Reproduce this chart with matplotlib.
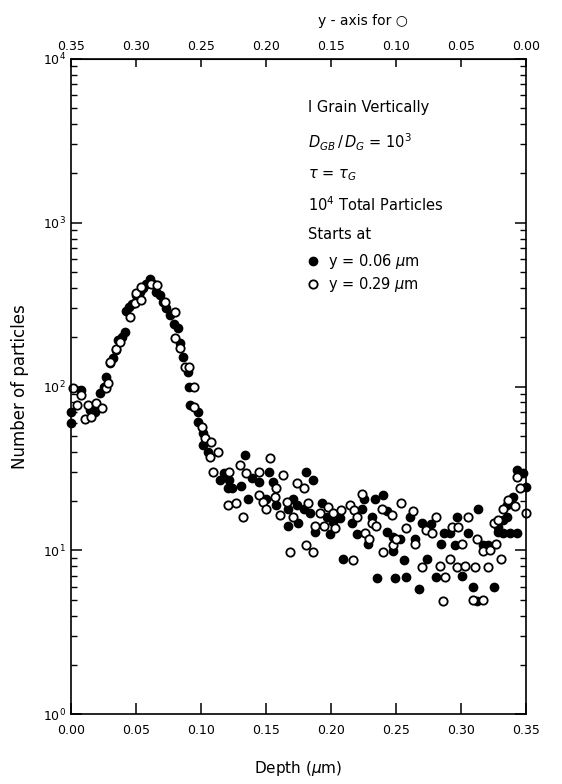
import matplotlib
matplotlib.use("Agg")
import matplotlib.pyplot as plt

plt.rcParams['font.family'] = ['DejaVu Sans']
plt.rcParams['mathtext.fontset'] = 'dejavusans'

# filled circles: particles starting at y = 0.06 um
filled_depth = [0.0005, 0.0005, 0.008, 0.0146, 0.0185, 0.0223, 0.0255, 0.0274, 0.030, 0.0325,
                0.035, 0.0364, 0.0395, 0.0415, 0.0428, 0.045, 0.047, 0.050, 0.053, 0.0555,
                0.058, 0.0608, 0.063, 0.0655, 0.0685, 0.071, 0.0735, 0.076, 0.079, 0.0825,
                0.0838, 0.0864, 0.090, 0.0905, 0.0915, 0.098, 0.098, 0.1017, 0.1017, 0.1056,
                0.1146, 0.118, 0.121, 0.122, 0.124, 0.131, 0.134, 0.136, 0.139, 0.145,
                0.150, 0.152, 0.1556, 0.158, 0.167, 0.167, 0.171, 0.1736, 0.175, 0.179,
                0.181, 0.184, 0.186, 0.188, 0.193, 0.197, 0.199, 0.2018, 0.207, 0.2095,
                0.216, 0.220, 0.2236, 0.2254, 0.2287, 0.2313, 0.234, 0.2357, 0.2397, 0.2428,
                0.2428, 0.2474, 0.2474, 0.249, 0.253, 0.256, 0.258, 0.261, 0.265, 0.268,
                0.270, 0.274, 0.2767, 0.281, 0.2843, 0.287, 0.2915, 0.2954, 0.2972, 0.301,
                0.3057, 0.309, 0.312, 0.3134, 0.317, 0.321, 0.3254, 0.3287, 0.3287, 0.3325,
                0.3325, 0.335, 0.335, 0.3377, 0.3397, 0.343, 0.343, 0.348, 0.350]
filled_count = [70, 60, 95, 72, 70, 91, 100, 115, 139, 150,
                167, 192, 200, 216, 290, 305, 320, 360, 380, 400,
                420, 450, 420, 380, 364, 330, 300, 273, 240, 227,
                184, 152, 123, 100, 77, 70, 61, 52, 44, 40,
                27, 29.6, 24, 27, 24, 24.6, 38, 20.7, 27.5, 26,
                20.7, 30, 26, 18.9, 18, 14, 20.7, 18.9, 14.6, 18,
                30, 16.8, 27, 13, 19.4, 16, 12.6, 15, 15.7, 8.9,
                14.6, 12.6, 18, 20.7, 11, 16, 20.7, 6.8, 21.8, 17.4,
                13, 9.9, 12.1, 6.8, 11.8, 8.7, 6.9, 16, 11.8, 5.8,
                14.7, 8.8, 14.4, 6.9, 11, 12.7, 12.8, 10.8, 15.9, 7,
                12.7, 6, 4.9, 17.8, 10.8, 10.8, 6, 13, 13.9, 12.7,
                15.3, 16, 18.9, 12.7, 21.2, 12.8, 31, 29.5, 24.5]

# open circles: particles starting at y = 0.29 um
open_depth = [0.0013, 0.0044, 0.008, 0.0108, 0.0133, 0.0159, 0.0197, 0.0236, 0.0274, 0.0287,
              0.030, 0.035, 0.0377, 0.0454, 0.049, 0.0505, 0.0543, 0.0543, 0.062, 0.066,
              0.0723, 0.080, 0.080, 0.084, 0.0877, 0.091, 0.095, 0.095, 0.1005, 0.103,
              0.107, 0.108, 0.1095, 0.113, 0.121, 0.122, 0.127, 0.130, 0.1326, 0.135,
              0.145, 0.145, 0.148, 0.150, 0.153, 0.157, 0.158, 0.161, 0.163, 0.166,
              0.1685, 0.171, 0.1736, 0.179, 0.1808, 0.1826, 0.186, 0.188, 0.1915, 0.195,
              0.198, 0.2018, 0.203, 0.208, 0.2146, 0.2167, 0.218, 0.220, 0.2236, 0.226,
              0.2295, 0.2313, 0.235, 0.239, 0.2397, 0.2467, 0.2474, 0.250, 0.2536, 0.258,
              0.2633, 0.2646, 0.270, 0.273, 0.278, 0.2808, 0.284, 0.2858, 0.288, 0.2915,
              0.2928, 0.2967, 0.298, 0.301, 0.303, 0.3057, 0.309, 0.3108, 0.312, 0.317,
              0.317, 0.321, 0.322, 0.3254, 0.327, 0.3287, 0.331, 0.3325, 0.3364, 0.3415,
              0.343, 0.345, 0.350]
open_count = [98, 77, 89, 63, 77, 65, 79, 74, 98, 105,
              141, 170, 188, 265, 322, 370, 336, 407, 425, 416,
              330, 286, 198, 171, 132, 132, 100, 75, 57, 48.7,
              37, 46, 30, 40, 18.9, 30, 19.5, 33, 16, 29.8,
              30, 21.8, 19.8, 18, 36.6, 21.2, 24, 16.4, 28.8, 19.8,
              9.8, 16, 25.6, 24, 10.8, 19.4, 9.8, 14, 16.8, 14,
              18.4, 16.8, 13.6, 17.6, 18.9, 8.7, 17.6, 16, 22, 12.8,
              11.8, 14.7, 14, 18, 9.8, 16.4, 10.8, 11.8, 19.5, 13.6,
              17.3, 11, 7.9, 13.4, 12.7, 16, 8, 4.9, 6.9, 8.8,
              13.8, 7.9, 13.8, 11, 8, 16, 5, 7.9, 11.8, 5,
              9.9, 7.9, 10, 14.6, 11, 15.3, 8.9, 18, 20.2, 18.6,
              28, 24, 16.8]

depth_ticks = [0.00, 0.05, 0.10, 0.15, 0.20, 0.25, 0.30, 0.35]

fig = plt.figure(figsize=(5.62, 7.84), dpi=100)
ax = fig.add_axes([0.126, 0.089, 0.81, 0.836])

ax.plot(filled_depth, filled_count, 'o', color='black', ms=6, ls='none', clip_on=False)
ax.plot(open_depth, open_count, 'o', mfc='white', mec='black', mew=1.3, ms=6, ls='none',
        clip_on=False)

ax.set_yscale('log')
ax.set_ylim(1, 1e4)
ax.set_xlim(0, 0.35)
ax.set_xticks(depth_ticks)
ax.set_xticklabels([f"{t:.2f}" for t in depth_ticks])
ax.tick_params(axis='both', which='major', direction='in', length=8, width=1.1, labelsize=9)
ax.tick_params(axis='y', which='minor', direction='in', length=4, width=1)
ax.tick_params(axis='y', which='both', right=True)
ax.tick_params(axis='x', top=False, pad=7)
for s in ax.spines.values():
    s.set_linewidth(1.2)

# top axis: position scale for the open circles, reversed
top = ax.secondary_xaxis('top', functions=(lambda x: 0.35 - x, lambda x: 0.35 - x))
top.set_xticks(depth_ticks)
top.set_xticklabels([f"{t:.2f}" for t in depth_ticks])
top.tick_params(direction='in', length=6, width=1.1, labelsize=9, pad=4)
fig.text(0.646, 0.973, "y - axis for \u25cb", fontsize=10, ha='center', va='center')

ax.set_xlabel("Depth ($\\mu$m)", fontsize=11, labelpad=16)
ax.set_ylabel("Number of particles", fontsize=12, labelpad=10)

tx = 0.52
fs = 10.5
ax.text(tx, 0.925, "I Grain Vertically", transform=ax.transAxes, fontsize=fs, va='center')
ax.text(tx, 0.872, "$D_{GB}\\,/\\,D_G$ = $10^3$", transform=ax.transAxes, fontsize=fs, va='center')
ax.text(tx, 0.822, "$\\tau$ = $\\tau_G$", transform=ax.transAxes, fontsize=fs, va='center')
ax.text(tx, 0.777, "$10^4$ Total Particles", transform=ax.transAxes, fontsize=fs, va='center')
ax.text(tx, 0.732, "Starts at", transform=ax.transAxes, fontsize=fs, va='center')
ax.plot([tx + 0.012], [0.691], 'o', color='black', ms=6, transform=ax.transAxes)
ax.text(tx + 0.045, 0.691, "y = 0.06 $\\mu$m", transform=ax.transAxes, fontsize=fs, va='center')
ax.plot([tx + 0.012], [0.656], 'o', mfc='white', mec='black', mew=1.3, ms=6,
        transform=ax.transAxes)
ax.text(tx + 0.045, 0.656, "y = 0.29 $\\mu$m", transform=ax.transAxes, fontsize=fs, va='center')

fig.savefig("out.png", dpi=100)
